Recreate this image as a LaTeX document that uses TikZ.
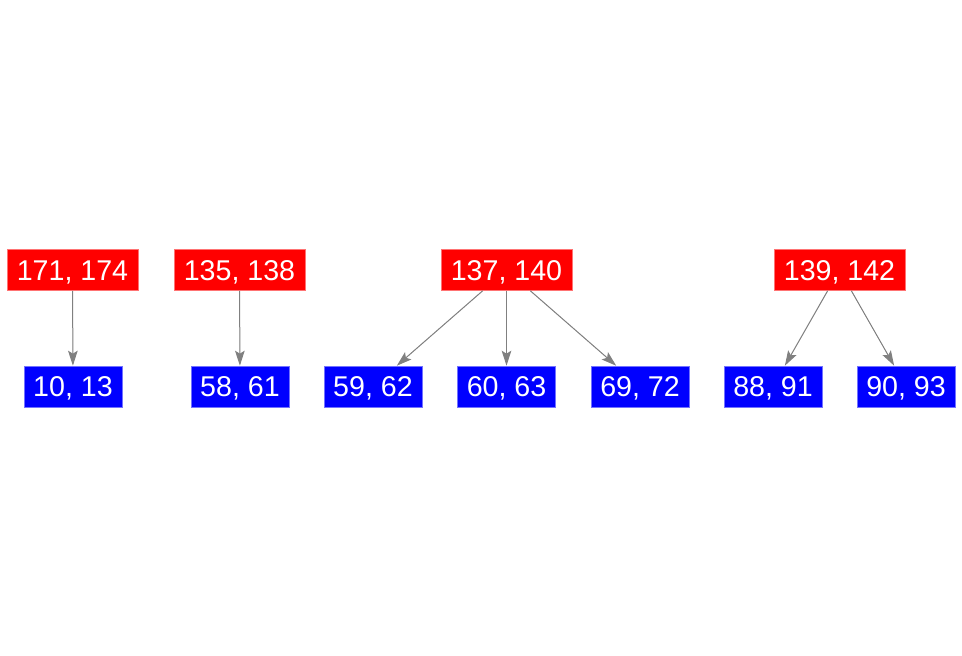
\documentclass[tikz,border=0pt]{standalone}
\usepackage{fontspec}
\setmainfont{Liberation Sans}
\usepackage{tikz}
\usetikzlibrary{positioning,arrows.meta}

\begin{document}
\begin{tikzpicture}[x=0.5pt, y=-0.5pt,
  parent/.style={fill=red, draw=red!55!white, line width=0.3pt, text=white, minimum width=65.5pt, minimum height=20.5pt, inner sep=0pt, text height=10.3pt, text depth=0pt, font=\fontsize{14.3}{16}\selectfont},
  child/.style={parent, fill=blue, draw=blue!55!white, minimum width=49pt},
  tree arrow/.style={-{Stealth[length=7.5pt,width=4.8pt,inset=1.5pt]}, line width=0.5pt, draw=black!50, fill=black!50}
]
\path[use as bounding box] (0,0) rectangle (962,656);

\node[parent] (p1) at (72.5,270) {171, 174};
\node[parent] (p2) at (239.5,270) {135, 138};
\node[parent] (p3) at (506.5,270) {137, 140};
\node[parent] (p4) at (839.5,270) {139, 142};

\node[child] (c1) at (73,386.5) {10, 13};
\node[child] (c2) at (240,386.5) {58, 61};
\node[child] (c3) at (373,386.5) {59, 62};
\node[child] (c4) at (506.5,386.5) {60, 63};
\node[child] (c5) at (640,386.5) {69, 72};
\node[child] (c6) at (773,386.5) {88, 91};
\node[child] (c7) at (906,386.5) {90, 93};

\draw[tree arrow] (p1) -- (c1);
\draw[tree arrow] (p2) -- (c2);
\foreach \c in {c3,c4,c5}
  \draw[tree arrow] (p3) -- (\c);
\foreach \c in {c6,c7}
  \draw[tree arrow] (p4) -- (\c);
\end{tikzpicture}
\end{document}
